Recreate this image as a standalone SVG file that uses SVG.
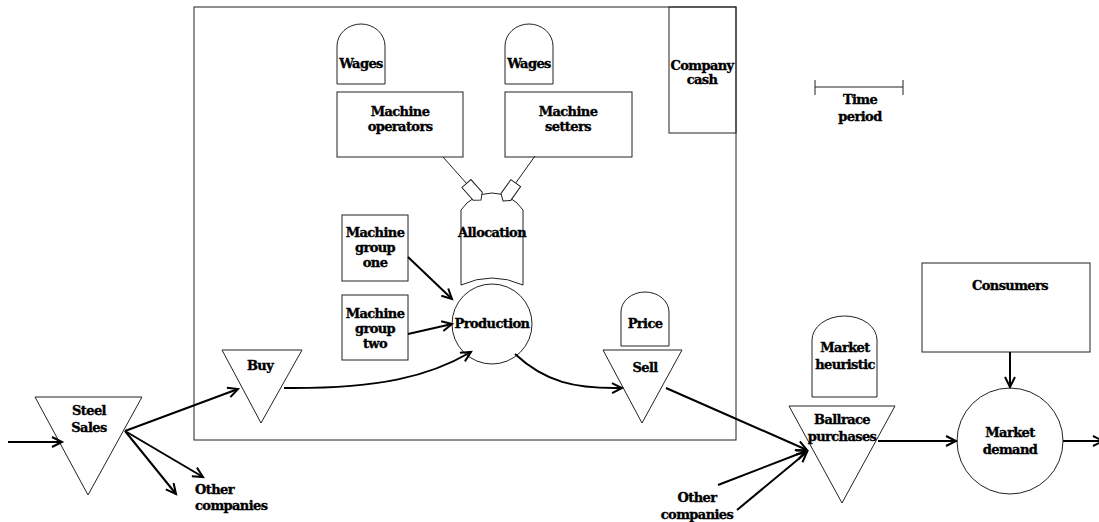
<svg xmlns="http://www.w3.org/2000/svg" width="1099" height="522" viewBox="0 0 1099 522">
  <style>
    .shape { fill: none; stroke: #222; stroke-width: 1; }
    .flow { fill: none; stroke: #000; stroke-width: 2; }
    .thin { fill: none; stroke: #222; stroke-width: 1; }
    text { font-family: "DejaVu Serif", "Liberation Serif", serif; font-weight: bold; font-size: 13px; fill: #000; stroke: #000; stroke-width: 0.35; text-anchor: middle; letter-spacing: -0.6px; }
  </style>
  <defs>
    <marker id="arrow" markerUnits="userSpaceOnUse" markerWidth="14" markerHeight="14" refX="11" refY="6" orient="auto">
      <path d="M1,1 L11,6 L1,11" fill="none" stroke="#000" stroke-width="2"/>
    </marker>
    <!-- valve pointer, tip at the origin pointing along +x -->
    <path id="valve" d="M0,0 L-5,-6 L-22,-6 L-22,6 L-5,6 Z" fill="#fff" stroke="#222" stroke-width="1"/>
  </defs>

  <rect width="1099" height="522" fill="#fff"/>

  <!-- company boundary -->
  <g id="company">
    <rect class="shape" x="194" y="7" width="542" height="433"/>
  </g>

  <g id="company-cash">
    <rect class="shape" x="669" y="7" width="67" height="126"/>
    <text x="702" y="70">Company</text>
    <text x="702" y="84">cash</text>
  </g>

  <g id="time-period">
    <path class="thin" d="M815,87 H903 M815,80 V95 M903,80 V95"/>
    <text x="860" y="104">Time</text>
    <text x="860" y="121">period</text>
  </g>

  <g id="wages-operators">
    <path class="shape" d="M337,84 V46 A24,22 0 0 1 385,46 V84 Z"/>
    <text x="361" y="68">Wages</text>
  </g>
  <g id="wages-setters">
    <path class="shape" d="M505,84 V46 A24,22 0 0 1 553,46 V84 Z"/>
    <text x="529" y="68">Wages</text>
  </g>

  <g id="machine-operators">
    <rect class="shape" x="337" y="92" width="126" height="65"/>
    <text x="400" y="116">Machine</text>
    <text x="400" y="131">operators</text>
  </g>
  <g id="machine-setters">
    <rect class="shape" x="505" y="92" width="127" height="65"/>
    <text x="568" y="116">Machine</text>
    <text x="568" y="131">setters</text>
  </g>

  <g id="allocation">
    <path class="shape" d="M461,285 V210 A38,38 0 0 1 492,193 A38,38 0 0 1 523,210 V285 Q492,271 461,285 Z"/>
    <text x="492" y="237">Allocation</text>
  </g>

  <g id="machine-group-one">
    <rect class="shape" x="342" y="215" width="66" height="66"/>
    <text x="375" y="237">Machine</text>
    <text x="375" y="252">group</text>
    <text x="375" y="267">one</text>
  </g>
  <g id="machine-group-two">
    <rect class="shape" x="342" y="295" width="66" height="65"/>
    <text x="375" y="318">Machine</text>
    <text x="375" y="333">group</text>
    <text x="375" y="348">two</text>
  </g>

  <g id="production">
    <circle class="shape" cx="492" cy="324" r="40"/>
    <text x="492" y="328">Production</text>
  </g>

  <g id="buy">
    <path class="shape" d="M222,350 H302 L261,423 Z"/>
    <text x="260" y="370">Buy</text>
  </g>

  <g id="price">
    <path class="shape" d="M621,346 V312 A24,20 0 0 1 669,312 V346 Z"/>
    <text x="645" y="328">Price</text>
  </g>

  <g id="sell">
    <path class="shape" d="M603,350 H682 L642,423 Z"/>
    <text x="645" y="372">Sell</text>
  </g>

  <g id="steel-sales">
    <path class="shape" d="M35,397 H142 L88,495 Z"/>
    <text x="89" y="415">Steel</text>
    <text x="89" y="432">Sales</text>
  </g>

  <g id="other-companies-steel">
    <text x="195" y="494" style="text-anchor:start">Other</text>
    <text x="195" y="510" style="text-anchor:start">companies</text>
  </g>

  <g id="market-heuristic">
    <path class="shape" d="M812,397 V340 A32.5,24 0 0 1 877,340 V397 Z"/>
    <text x="845" y="352">Market</text>
    <text x="845" y="369">heuristic</text>
  </g>

  <g id="ballrace-purchases">
    <path class="shape" d="M789,406 H895 L842,503 Z"/>
    <text x="842" y="424">Ballrace</text>
    <text x="842" y="441">purchases</text>
  </g>

  <g id="other-companies-market">
    <text x="697" y="502">Other</text>
    <text x="697" y="519">companies</text>
  </g>

  <g id="consumers">
    <rect class="shape" x="922" y="263" width="168" height="89"/>
    <text x="1010" y="290">Consumers</text>
  </g>

  <g id="market-demand">
    <circle class="shape" cx="1010" cy="441" r="53"/>
    <text x="1010" y="437">Market</text>
    <text x="1010" y="454">demand</text>
  </g>

  <!-- connectors -->
  <g id="connectors">
    <!-- labour feeding the allocation valves -->
    <line class="thin" x1="443" y1="157" x2="467" y2="184"/>
    <use href="#valve" transform="translate(481,200) rotate(48.5)"/>
    <line class="thin" x1="535" y1="156" x2="515" y2="184"/>
    <use href="#valve" transform="translate(503,201) rotate(125.4)"/>

    <line class="flow" x1="408" y1="257" x2="452" y2="299" marker-end="url(#arrow)"/>
    <line class="flow" x1="408" y1="334" x2="452" y2="324" marker-end="url(#arrow)"/>

    <path class="flow" d="M284,388 C380,389 430,376 471,352" marker-end="url(#arrow)"/>
    <path class="flow" d="M515,354 C545,382 575,389 622,388" marker-end="url(#arrow)"/>

    <line class="flow" x1="8" y1="442" x2="62" y2="442" marker-end="url(#arrow)"/>
    <line class="flow" x1="125" y1="431" x2="238" y2="389" marker-end="url(#arrow)"/>
    <line class="flow" x1="125" y1="431" x2="203" y2="477" marker-end="url(#arrow)"/>
    <line class="flow" x1="125" y1="431" x2="176" y2="494" marker-end="url(#arrow)"/>

    <line class="flow" x1="666" y1="388" x2="807" y2="450" marker-end="url(#arrow)"/>
    <line class="flow" x1="718" y1="485" x2="806" y2="451" marker-end="url(#arrow)"/>
    <line class="flow" x1="737" y1="510" x2="807" y2="452" marker-end="url(#arrow)"/>

    <line class="flow" x1="878" y1="441" x2="956" y2="441" marker-end="url(#arrow)"/>
    <line class="flow" x1="1010" y1="352" x2="1010" y2="387" marker-end="url(#arrow)"/>
    <line class="flow" x1="1063" y1="441" x2="1103" y2="441" marker-end="url(#arrow)"/>
  </g>
</svg>
